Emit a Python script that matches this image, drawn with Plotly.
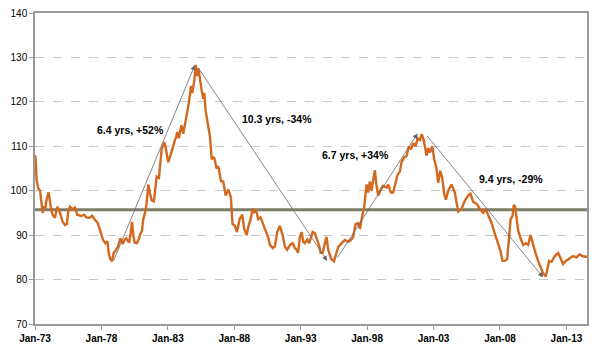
import plotly.graph_objects as go

years = [
    1973.00, 1973.05, 1973.12, 1973.25, 1973.38, 1973.50, 1973.58, 1973.68, 1973.78, 1973.88,
    1974.03, 1974.18, 1974.33, 1974.50, 1974.68, 1974.88, 1975.08, 1975.26, 1975.40, 1975.50,
    1975.63, 1975.84, 1976.00, 1976.18, 1976.48, 1976.70, 1976.86, 1977.10, 1977.30, 1977.50,
    1977.70, 1977.87, 1978.00, 1978.12, 1978.30, 1978.45, 1978.55, 1978.67, 1978.80, 1978.92,
    1979.05, 1979.25, 1979.42, 1979.60, 1979.75, 1979.87, 1980.00, 1980.10, 1980.20, 1980.30,
    1980.40, 1980.50, 1980.67, 1980.80, 1980.92, 1981.05, 1981.15, 1981.28, 1981.40, 1981.53,
    1981.65, 1981.78, 1981.95, 1982.05, 1982.16, 1982.33, 1982.45, 1982.53, 1982.73, 1982.82,
    1982.90, 1983.03, 1983.15, 1983.28, 1983.40, 1983.53, 1983.62, 1983.70, 1983.83, 1983.93,
    1984.03, 1984.16, 1984.28, 1984.40, 1984.50, 1984.59, 1984.74, 1984.84, 1984.92, 1985.00,
    1985.10, 1985.20, 1985.30, 1985.42, 1985.55, 1985.67, 1985.74, 1985.85, 1986.00, 1986.17,
    1986.30, 1986.40, 1986.50, 1986.67, 1986.80, 1986.90, 1987.00, 1987.17, 1987.35, 1987.55,
    1987.67, 1987.75, 1987.80, 1987.87, 1988.05, 1988.20, 1988.40, 1988.60, 1988.75, 1988.93,
    1989.05, 1989.23, 1989.38, 1989.48, 1989.63, 1989.80, 1989.98, 1990.18, 1990.43, 1990.55,
    1990.68, 1990.90, 1991.06, 1991.23, 1991.43, 1991.64, 1991.80, 1991.98, 1992.20, 1992.40,
    1992.56, 1992.70, 1992.80, 1992.94, 1993.07, 1993.19, 1993.30, 1993.50, 1993.64, 1993.90,
    1994.07, 1994.24, 1994.40, 1994.50, 1994.65, 1994.82, 1994.94, 1995.07, 1995.20, 1995.30,
    1995.50, 1995.65, 1995.82, 1996.08, 1996.33, 1996.58, 1996.78, 1996.95, 1997.13, 1997.33,
    1997.46, 1997.63, 1997.78, 1997.96, 1998.08, 1998.20, 1998.33, 1998.45, 1998.58, 1998.70,
    1998.83, 1999.03, 1999.20, 1999.46, 1999.58, 1999.79, 1999.96, 2000.14, 2000.29, 2000.46,
    2000.59, 2000.79, 2000.97, 2001.14, 2001.29, 2001.47, 2001.65, 2001.80, 2001.97, 2002.10,
    2002.22, 2002.35, 2002.47, 2002.60, 2002.72, 2002.90, 2003.05, 2003.22, 2003.35, 2003.50,
    2003.65, 2003.80, 2003.93, 2004.10, 2004.35, 2004.60, 2004.85, 2005.10, 2005.36, 2005.60,
    2005.78, 2005.98, 2006.23, 2006.48, 2006.73, 2006.94, 2007.10, 2007.36, 2007.54, 2007.74,
    2007.86, 2008.04, 2008.19, 2008.36, 2008.54, 2008.67, 2008.80, 2008.94, 2009.04, 2009.14,
    2009.25, 2009.37, 2009.55, 2009.75, 2009.95, 2010.12, 2010.30, 2010.50, 2010.70, 2010.87,
    2011.05, 2011.25, 2011.45, 2011.55, 2011.70, 2011.88, 2012.13, 2012.38, 2012.56, 2012.75,
    2012.96, 2013.13, 2013.30, 2013.50, 2013.76, 2014.00, 2014.20, 2014.45, 2014.55,
]

values = [
    108.0, 107.0, 102.5, 100.5, 100.0, 96.5, 95.0, 96.5, 96.0, 98.2,
    99.6, 96.5, 94.5, 93.9, 96.4, 95.0, 93.0, 92.3, 92.5, 95.3,
    96.4, 95.8, 96.2, 94.6, 94.3, 94.6, 94.0, 93.9, 94.4, 93.5,
    92.8, 91.4, 89.8, 88.9, 88.2, 88.6, 86.0, 84.6, 84.1, 86.0,
    86.4, 87.5, 89.3, 88.0, 89.0, 89.3, 88.6, 88.5, 90.5, 93.0,
    90.0, 88.3, 88.2, 89.0, 90.2, 91.0, 93.6, 95.0, 97.1, 101.4,
    99.5, 97.8, 97.6, 100.0, 103.2, 102.9, 106.0, 109.3, 110.9, 110.0,
    108.6, 106.4, 107.5, 108.6, 110.0, 111.4, 112.0, 113.2, 111.8, 113.5,
    114.7, 112.8, 115.0, 116.8, 118.0, 120.0, 123.6, 122.0, 123.5, 125.0,
    128.3, 125.8, 127.5, 124.7, 122.5, 120.7, 122.0, 117.9, 115.0, 112.2,
    107.1, 107.5, 107.3, 105.0, 105.5, 103.5, 102.1, 102.1, 98.9, 100.3,
    99.3, 98.5, 95.7, 92.5, 92.1, 90.7, 93.6, 94.6, 91.4, 90.0,
    91.8, 93.6, 96.0, 95.0, 95.7, 93.6, 94.0, 92.5, 90.7, 89.5,
    87.8, 87.1, 87.5, 90.7, 92.1, 90.0, 87.5, 86.7, 87.8, 88.2,
    87.1, 86.7, 86.0, 89.6, 90.7, 88.5, 88.2, 89.0, 88.2, 90.7,
    90.4, 89.0, 87.5, 86.0, 86.0, 88.2, 89.6, 86.7, 85.3, 84.6,
    84.1, 85.7, 87.3, 88.2, 88.9, 88.5, 88.9, 89.6, 92.5, 92.7,
    91.4, 94.3, 96.4, 101.4, 99.6, 102.1, 100.0, 102.3, 104.6, 101.4,
    98.9, 100.3, 101.1, 100.7, 101.4, 99.6, 99.6, 101.8, 103.6, 104.3,
    106.4, 107.5, 107.8, 110.0, 109.3, 110.7, 110.0, 111.8, 111.4, 112.7,
    111.8, 110.0, 107.9, 109.6, 108.6, 110.0, 107.1, 105.0, 101.8, 104.5,
    103.0, 99.3, 98.0, 100.0, 101.4, 99.6, 95.3, 95.9, 97.8, 98.9,
    99.3, 97.5, 97.1, 96.0, 95.0, 95.7, 94.6, 92.8, 91.0, 89.3,
    87.8, 86.4, 84.2, 84.2, 84.6, 88.5, 93.6, 94.3, 96.8, 96.4,
    93.6, 91.0, 89.3, 87.8, 88.2, 87.8, 90.0, 87.5, 85.7, 84.2,
    82.8, 81.4, 80.7, 82.1, 84.2, 84.0, 85.3, 86.0, 84.6, 83.5,
    84.2, 84.6, 85.0, 85.3, 85.0, 85.7, 85.3, 85.1, 85.3,
]

average_level = 95.7

tick_years = [1973, 1978, 1983, 1988, 1993, 1998, 2003, 2008, 2013]
tick_labels = ["Jan-73", "Jan-78", "Jan-83", "Jan-88", "Jan-93", "Jan-98", "Jan-03", "Jan-08", "Jan-13"]

# cycle arrows: (tail_year, tail_value, head_year, head_value)
cycle_arrows = [
    (1978.87, 83.9, 1985.04, 128.3),
    (1985.21, 128.0, 1995.00, 84.2),
    (1995.70, 84.6, 2001.80, 112.9),
    (2002.42, 112.7, 2011.25, 80.5),
]
cycle_labels = ["6.4 yrs, +52%", "10.3 yrs, -34%", "6.7 yrs, +34%", "9.4 yrs, -29%"]
label_pos = [(1980.19, 113.6), (1991.25, 116.1), (1997.12, 108.0), (2008.82, 102.6)]

fig = go.Figure()
fig.add_trace(go.Scatter(
    x=[years[0], years[-1]], y=[average_level, average_level], mode="lines",
    line=dict(color="#7e7e68", width=3), hoverinfo="skip", showlegend=False,
))
fig.add_trace(go.Scatter(
    x=years, y=values, mode="lines",
    line=dict(color="#d2691e", width=2.4), showlegend=False,
))

for (tx, ty, hx, hy) in cycle_arrows:
    fig.add_annotation(
        x=hx, y=hy, ax=tx, ay=ty, xref="x", yref="y", axref="x", ayref="y",
        text="", showarrow=True, arrowhead=2, arrowsize=1.3, arrowwidth=0.8,
        arrowcolor="#666666", standoff=0, startstandoff=0,
    )

for txt, (lx, ly) in zip(cycle_labels, label_pos):
    fig.add_annotation(
        x=lx, y=ly, xref="x", yref="y", text="<b>" + txt + "</b>", showarrow=False,
        font=dict(family="Liberation Sans, Arial, sans-serif", size=10.5, color="#000000"),
    )

fig.update_layout(
    width=600, height=351,
    margin=dict(l=35, r=13, t=7, b=18),
    paper_bgcolor="white", plot_bgcolor="white",
    font=dict(family="Liberation Sans, Arial, sans-serif", size=10, color="#000000"),
)
fig.update_xaxes(
    range=[1973, 2014.55], tickmode="array", tickvals=tick_years,
    ticktext=["<b>" + t + "</b>" for t in tick_labels],
    showgrid=False, zeroline=False,
    showline=True, linecolor="#9a9a9a", linewidth=1.5, mirror=True,
    ticks="outside", ticklen=4, tickcolor="#9a9a9a",
)
fig.update_yaxes(
    range=[70, 140], tickmode="linear", tick0=70, dtick=10,
    tickvals=[70, 80, 90, 100, 110, 120, 130, 140],
    ticktext=["<b>%d</b>" % v for v in [70, 80, 90, 100, 110, 120, 130, 140]],
    showgrid=True, gridcolor="#c8c8c8", gridwidth=1, griddash="dash", zeroline=False,
    showline=True, linecolor="#9a9a9a", linewidth=1.5, mirror=True,
    ticks="outside", ticklen=4, tickcolor="#9a9a9a",
)

fig.write_html("out.html")
